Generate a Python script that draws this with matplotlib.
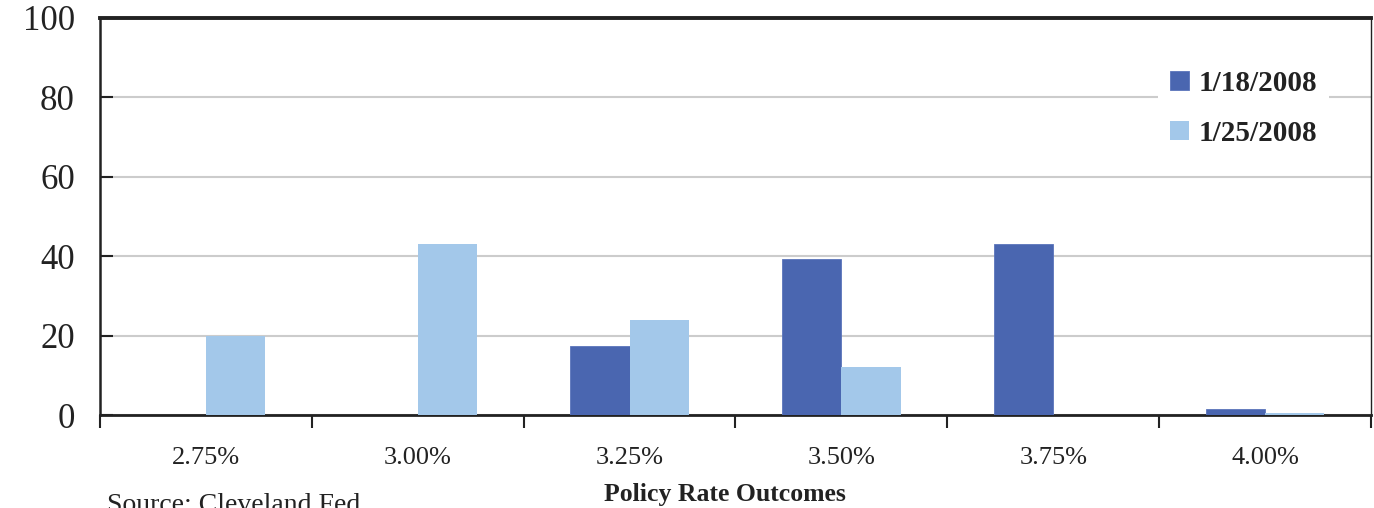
import numpy as np
import matplotlib
matplotlib.use("Agg")
import matplotlib.pyplot as plt

rates = ["2.75%", "3.00%", "3.25%", "3.50%", "3.75%", "4.00%"]
prob_0118 = [0.0, 0.0, 17.4, 39.3, 43.1, 1.4]
prob_0125 = [19.8, 43.1, 23.9, 12.1, 0.0, 0.4]

dark = "#4a66b0"
light = "#a3c8ea"

plt.rcParams["font.family"] = ["Liberation Serif", "DejaVu Serif"]

fig = plt.figure(figsize=(13.74, 5.08), dpi=100)
ax = fig.add_axes([100 / 1374, 1 - 415 / 508, 1271 / 1374, 397 / 508])

x = np.arange(len(rates))
w = 0.28
ax.bar(x - w / 2, prob_0118, w, color=dark, edgecolor="#5a74bb", linewidth=0.6,
       label="1/18/2008", zorder=3)
ax.bar(x + w / 2, prob_0125, w, color=light, edgecolor=light, linewidth=0.0,
       label="1/25/2008", zorder=3)

ax.set_xlim(-0.5, len(rates) - 0.5)
ax.set_ylim(0, 100)
ax.set_yticks([0, 20, 40, 60, 80, 100])
ax.yaxis.grid(True, color="#cccccc", linewidth=1.5, zorder=0)
ax.set_axisbelow(True)

ax.set_xticks(x)
ax.set_xticklabels(rates, fontsize=19)
ax.set_xticks(np.arange(-0.5, len(rates)), minor=True)
ax.tick_params(axis="x", which="major", length=0, pad=23, colors="#222222")
ax.tick_params(axis="x", which="minor", length=9, width=1.5, direction="out",
               color="#222222")
ax.tick_params(axis="y", which="major", length=9, width=1.5, direction="in",
               labelsize=25, pad=18, colors="#222222")

for side, lw in [("top", 2.8), ("left", 1.8), ("bottom", 2.0), ("right", 1.0)]:
    ax.spines[side].set_linewidth(lw)
    ax.spines[side].set_color("#222222")

leg = ax.legend(loc="upper left", bbox_to_anchor=(1058 / 1271, 1 - 40 / 397),
                frameon=True, facecolor="white", edgecolor="none", framealpha=1,
                fancybox=False, prop={"weight": "bold", "size": 21},
                handlelength=0.65, handleheight=0.65, handletextpad=0.35,
                labelspacing=0.8, borderpad=0.4, borderaxespad=0)
for t in leg.get_texts():
    t.set_color("#222222")

fig.text(725 / 1374, 1 - 495 / 508, "Policy Rate Outcomes", ha="center",
         va="center", fontsize=18.5, fontweight="bold", color="#222222")
fig.text(107 / 1374, 1 - 506 / 508, "Source: Cleveland Fed", ha="left",
         va="center", fontsize=20, color="#222222")

fig.savefig("out.png", dpi=100)
